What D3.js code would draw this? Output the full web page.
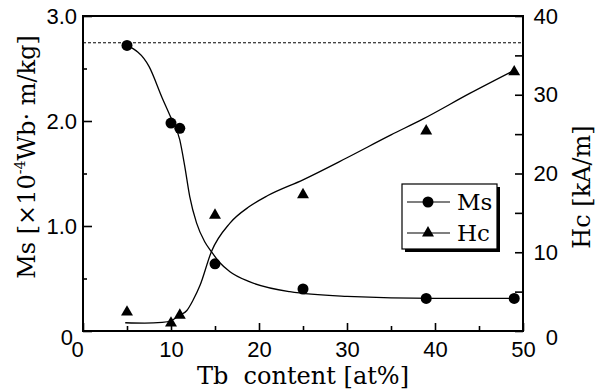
<!DOCTYPE html>
<html>
<head>
<meta charset="utf-8">
<script src="https://cdn.jsdelivr.net/npm/d3@7"></script>
<style>
  html, body { margin: 0; padding: 0; background: #ffffff; }
  svg { display: block; font-family: "DejaVu Serif", "Liberation Serif", serif; }
  .axis text { font-size: 22px; fill: #000; }
  .axis line { stroke: #000; stroke-width: 1.6; }
  .axis path { display: none; }
</style>
</head>
<body>
<svg id="chart" width="595" height="392"></svg>
<script>
/* =========================================================
   Data
   ========================================================= */

// measured points
const tbContent = [5, 10, 11, 15, 25, 39, 49];
const msValues  = [2.72, 1.98, 1.93, 0.64, 0.40, 0.31, 0.31];

const tbContentHc = [5, 10, 11, 15, 25, 39, 49];
const hcValues    = [2.4, 1.0, 2.0, 14.7, 17.3, 25.4, 32.9];

// hand-drawn guide curves
const msCurveX = [5, 7.5, 9, 10, 11, 11.56, 12.13, 12.9, 13.83, 14.6, 15.5, 16.7, 18.9, 23.5, 30, 40, 49];
const msCurveY = [2.72, 2.52, 2.22, 2.03, 1.82, 1.57, 1.28, 1.03, 0.85, 0.755, 0.655, 0.565, 0.47, 0.374, 0.33, 0.31, 0.31];

const hcCurveX = [4.8, 7, 9, 10, 11, 11.8, 12.5, 13.3, 14.6, 16.7, 18.9, 21, 25, 30, 35, 38.6, 44, 49];
const hcCurveY = [1.05, 1.0, 1.1, 1.3, 2.0, 2.6, 3.9, 5.8, 10.1, 13.7, 15.8, 17.2, 19.2, 22.0, 24.9, 26.9, 30.2, 33.1];

// dashed reference level of Ms
const msReference = 2.745;

// axes
const xTicks      = [0, 10, 20, 30, 40, 50];
const xMinorTicks = [5, 15, 25, 35, 45];
const msTicks     = [0, 1, 2, 3];
const msTickLabels = ["0", "1.0", "2.0", "3.0"];
const msMinorTicks = [0.5, 1.5, 2.5];
const hcTicks      = [0, 10, 20, 30, 40];
const hcMinorTicks = [5, 15, 25, 35];

const seriesNames = ["Ms", "Hc"];

/* =========================================================
   Layout
   ========================================================= */

const PLOT = { left: 83, right: 523, top: 16, bottom: 331 };

const svg = d3.select("#chart");

const x = d3.scaleLinear().domain([0, 50]).range([PLOT.left, PLOT.right]);
const yMs = d3.scaleLinear().domain([0, 3]).range([PLOT.bottom, PLOT.top]);
const yHc = d3.scaleLinear().domain([0, 40]).range([PLOT.bottom, PLOT.top]);

/* =========================================================
   Axes
   ========================================================= */

// bottom
svg.append("g")
    .attr("class", "axis")
    .attr("transform", `translate(0,${PLOT.bottom})`)
    .call(d3.axisBottom(x).tickValues(xTicks).tickSizeInner(-8).tickSizeOuter(0).tickPadding(10))
    .call(g => g.selectAll(".tick text").filter(d => d === 0).attr("dx", -6));

svg.append("g")
    .attr("class", "axis")
    .attr("transform", `translate(0,${PLOT.bottom})`)
    .call(d3.axisBottom(x).tickValues(xMinorTicks).tickSizeInner(-5).tickSizeOuter(0).tickFormat(""));

// left
svg.append("g")
    .attr("class", "axis")
    .attr("transform", `translate(${PLOT.left},0)`)
    .call(d3.axisLeft(yMs).tickValues(msTicks).tickSizeInner(-9).tickSizeOuter(0).tickPadding(6)
        .tickFormat((d, i) => msTickLabels[i]))
    .call(g => g.selectAll(".tick text").filter(d => d === 0).attr("dx", -4).attr("dy", "0.6em"));

svg.append("g")
    .attr("class", "axis")
    .attr("transform", `translate(${PLOT.left},0)`)
    .call(d3.axisLeft(yMs).tickValues(msMinorTicks).tickSizeInner(-4).tickSizeOuter(0).tickFormat(""));

// right
svg.append("g")
    .attr("class", "axis")
    .attr("transform", `translate(${PLOT.right},0)`)
    .call(d3.axisRight(yHc).tickValues(hcTicks).tickSizeInner(-8).tickSizeOuter(0).tickPadding(35))
    .call(g => g.selectAll(".tick text").attr("text-anchor", "end"))
    .call(g => g.selectAll(".tick text").filter(d => d === 0).attr("dy", "0.6em"));

svg.append("g")
    .attr("class", "axis")
    .attr("transform", `translate(${PLOT.right},0)`)
    .call(d3.axisRight(yHc).tickValues(hcMinorTicks).tickSizeInner(-8).tickSizeOuter(0).tickFormat(""));

// frame
svg.append("rect")
    .attr("x", PLOT.left)
    .attr("y", PLOT.top)
    .attr("width", PLOT.right - PLOT.left)
    .attr("height", PLOT.bottom - PLOT.top)
    .attr("fill", "none")
    .attr("stroke", "#000")
    .attr("stroke-width", 2);

/* =========================================================
   Axis titles
   ========================================================= */

svg.append("text")
    .attr("x", (PLOT.left + PLOT.right) / 2)
    .attr("y", 384)
    .attr("text-anchor", "middle")
    .attr("font-size", 24)
    .style("white-space", "pre")
    .text("Tb  content [at%]");

const leftTitle = svg.append("text")
    .attr("transform", "translate(35,157) rotate(-90)")
    .attr("text-anchor", "middle")
    .attr("font-size", 24);
leftTitle.append("tspan").text("Ms [×10");
leftTitle.append("tspan").attr("font-size", 14).attr("dy", -10).text("-4");
leftTitle.append("tspan").attr("dy", 10).text("Wb· m/kg]");

svg.append("text")
    .attr("transform", "translate(590,187) rotate(-90)")
    .attr("text-anchor", "middle")
    .attr("font-size", 24)
    .text("Hc [kA/m]");

/* =========================================================
   Reference line and curves
   ========================================================= */

svg.append("line")
    .attr("x1", PLOT.left)
    .attr("x2", PLOT.right)
    .attr("y1", yMs(msReference))
    .attr("y2", yMs(msReference))
    .attr("stroke", "#000")
    .attr("stroke-width", 1)
    .attr("stroke-dasharray", "3,2");

const msLine = d3.line()
    .x((d, i) => x(msCurveX[i]))
    .y(d => yMs(d))
    .curve(d3.curveMonotoneX);

const hcLine = d3.line()
    .x((d, i) => x(hcCurveX[i]))
    .y(d => yHc(d))
    .curve(d3.curveMonotoneX);

svg.append("path")
    .datum(msCurveY)
    .attr("d", msLine)
    .attr("fill", "none")
    .attr("stroke", "#000")
    .attr("stroke-width", 1.3);

svg.append("path")
    .datum(hcCurveY)
    .attr("d", hcLine)
    .attr("fill", "none")
    .attr("stroke", "#000")
    .attr("stroke-width", 1.3);

/* =========================================================
   Markers
   ========================================================= */

svg.append("g")
    .selectAll("circle")
    .data(msValues)
    .join("circle")
    .attr("cx", (d, i) => x(tbContent[i]))
    .attr("cy", d => yMs(d))
    .attr("r", 5.5)
    .attr("fill", "#000");

const triangle = d3.symbol().type(d3.symbolTriangle).size(62);

svg.append("g")
    .selectAll("path")
    .data(hcValues)
    .join("path")
    .attr("d", triangle)
    .attr("transform", (d, i) => `translate(${x(tbContentHc[i])},${yHc(d)})`)
    .attr("fill", "#000");

/* =========================================================
   Legend
   ========================================================= */

const LEG = { x: 402, y: 184, w: 95, h: 65 };
const legend = svg.append("g");

legend.append("rect")
    .attr("x", LEG.x + 3)
    .attr("y", LEG.y + 3)
    .attr("width", LEG.w)
    .attr("height", LEG.h)
    .attr("fill", "#000");

legend.append("rect")
    .attr("x", LEG.x)
    .attr("y", LEG.y)
    .attr("width", LEG.w)
    .attr("height", LEG.h)
    .attr("fill", "#fff")
    .attr("stroke", "#000")
    .attr("stroke-width", 1.2);

seriesNames.forEach((name, i) => {
    const cy = LEG.y + 18 + i * 31;
    legend.append("line")
        .attr("x1", LEG.x + 5)
        .attr("x2", LEG.x + 48)
        .attr("y1", cy)
        .attr("y2", cy)
        .attr("stroke", "#000")
        .attr("stroke-width", 1.2);
    if (i === 0) {
        legend.append("circle")
            .attr("cx", LEG.x + 26)
            .attr("cy", cy)
            .attr("r", 5.5)
            .attr("fill", "#000");
    } else {
        legend.append("path")
            .attr("d", triangle)
            .attr("transform", `translate(${LEG.x + 26},${cy})`)
            .attr("fill", "#000");
    }
    legend.append("text")
        .attr("x", LEG.x + 55)
        .attr("y", cy)
        .attr("dy", "0.35em")
        .attr("font-size", 23)
        .text(name);
});
</script>
</body>
</html>
